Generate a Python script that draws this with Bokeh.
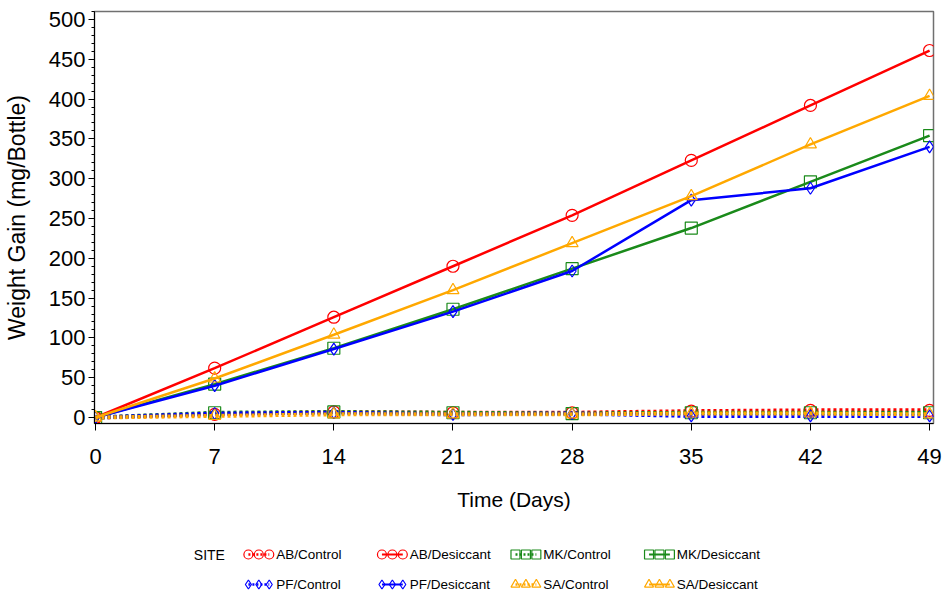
from bokeh.plotting import figure
from bokeh.layouts import column
from bokeh.models import Range1d, FixedTicker, SingleIntervalTicker
from bokeh.embed import file_html
from bokeh.resources import INLINE
from bokeh.core.properties import value

# ---------------- data ----------------
days = [0, 7, 14, 21, 28, 35, 42, 49]
ab_control = [0, 4, 7, 6, 6, 8, 9, 9]
ab_desiccant = [0, 62, 126, 190, 254, 323, 392, 461]
mk_control = [0, 6, 7, 6, 5, 6, 6, 6]
mk_desiccant = [0, 42, 87, 136, 187, 238, 296, 354]
pf_control = [0, 5, 6, 4, 5, 2, 2, 2]
pf_desiccant = [0, 40, 86, 133, 184, 273, 288, 340]
sa_control = [0, 2, 4, 4, 4, 5, 5, 4]
sa_desiccant = [0, 49, 104, 160, 219, 278, 343, 404]

x_ticks = [0, 7, 14, 21, 28, 35, 42, 49]

RED = "#FF0000"
GREEN = "#1A8A1A"
BLUE = "#0000FF"
ORANGE = "#FFA800"

series = [
    ("AB/Control", ab_control, RED, "circle", True),
    ("AB/Desiccant", ab_desiccant, RED, "circle", False),
    ("MK/Control", mk_control, GREEN, "square", True),
    ("MK/Desiccant", mk_desiccant, GREEN, "square", False),
    ("PF/Control", pf_control, BLUE, "diamond", True),
    ("PF/Desiccant", pf_desiccant, BLUE, "diamond", False),
    ("SA/Control", sa_control, ORANGE, "triangle", True),
    ("SA/Desiccant", sa_desiccant, ORANGE, "triangle", False),
]

SANS = "Liberation Sans"

# ---------------- main plot ----------------
p = figure(width=942, height=520, output_backend="svg", toolbar_location=None,
           x_range=Range1d(-0.06, 49.23), y_range=Range1d(-7.5, 510),
           min_border_left=88, min_border_right=9, min_border_top=11,
           min_border_bottom=97)
p.grid.visible = False
p.outline_line_color = "#707070"
p.outline_line_width = 1.5
p.background_fill_color = "white"
p.border_fill_color = "white"

p.xaxis.ticker = FixedTicker(ticks=x_ticks)
p.xaxis.minor_tick_line_color = None
p.xaxis.major_tick_in = 0
p.xaxis.major_tick_out = 7
p.xaxis.major_label_text_font = SANS
p.xaxis.major_label_text_font_size = "22px"
p.xaxis.major_label_text_color = "black"
p.xaxis.major_label_standoff = 18
p.xaxis.axis_label = "Time (Days)"
p.xaxis.axis_label_text_font = SANS
p.xaxis.axis_label_text_font_size = "21px"
p.xaxis.axis_label_text_font_style = "normal"
p.xaxis.axis_label_text_color = "black"
p.xaxis.axis_label_standoff = 21
p.xaxis.axis_line_color = "black"

p.yaxis.ticker = SingleIntervalTicker(interval=50, num_minor_ticks=5)
p.yaxis.major_tick_in = 0
p.yaxis.major_tick_out = 6
p.yaxis.minor_tick_in = 0
p.yaxis.minor_tick_out = 3
p.yaxis.major_label_text_font = SANS
p.yaxis.major_label_text_font_size = "22px"
p.yaxis.major_label_text_color = "black"
p.yaxis.major_label_standoff = 3
p.yaxis.axis_label = "Weight Gain (mg/Bottle)"
p.yaxis.axis_label_text_font = SANS
p.yaxis.axis_label_text_font_size = "23px"
p.yaxis.axis_label_text_font_style = "normal"
p.yaxis.axis_label_text_color = "black"
p.yaxis.axis_label_standoff = 16
p.yaxis.axis_line_color = "black"

for name, vals, color, marker, ctl in series:
    if ctl:
        p.line(days, vals, line_color=color, line_width=4, line_dash="3 3")
    else:
        p.line(days, vals, line_color=color, line_width=2.5)
    p.scatter(days, vals, marker=marker, size=12, fill_color=None,
              line_color=color, line_width=1.2)

# ---------------- legend panel ----------------
# frame is aligned with the main plot frame; coordinates are page pixels
leg = figure(width=942, height=71, output_backend="svg", toolbar_location=None,
             x_range=Range1d(93, 938), y_range=Range1d(591, 520),
             min_border_left=88, min_border_right=9, min_border_top=0,
             min_border_bottom=0)
leg.axis.visible = False
leg.grid.visible = False
leg.outline_line_color = None

col_x = [244, 378.5, 513, 647.5]
row_y = [554, 584]
glyph_w = 29

leg.text(x=[193], y=[row_y[0]], text=["SITE"], text_font=value(SANS),
         text_font_size="14px", text_baseline="middle", text_align="left",
         text_color="black")

for k, (name, vals, color, marker, ctl) in enumerate(series):
    # AB/MK in row 1, PF/SA in row 2; control/desiccant alternate columns
    row = 0 if k < 4 else 1
    col = k % 4
    x0 = col_x[col]
    y0 = row_y[row]
    xs = [x0 + 4, x0 + glyph_w / 2, x0 + glyph_w - 4]
    ys = [y0, y0, y0]
    if ctl:
        leg.line([xs[0], xs[2]], [y0, y0], line_color=color, line_width=2.5, line_dash="2 2")
    else:
        leg.line([xs[0], xs[2]], [y0, y0], line_color=color, line_width=2)
    leg.scatter(xs, ys, marker=marker, size=9, fill_color=None,
                line_color=color, line_width=1.2)
    leg.text(x=[x0 + glyph_w + 3], y=[y0], text=[name], text_font=value(SANS),
             text_font_size="13.5px", text_baseline="middle", text_align="left",
             text_color="black")

layout = column(p, leg, spacing=0)
open("out.html", "w").write(file_html(layout, INLINE))
